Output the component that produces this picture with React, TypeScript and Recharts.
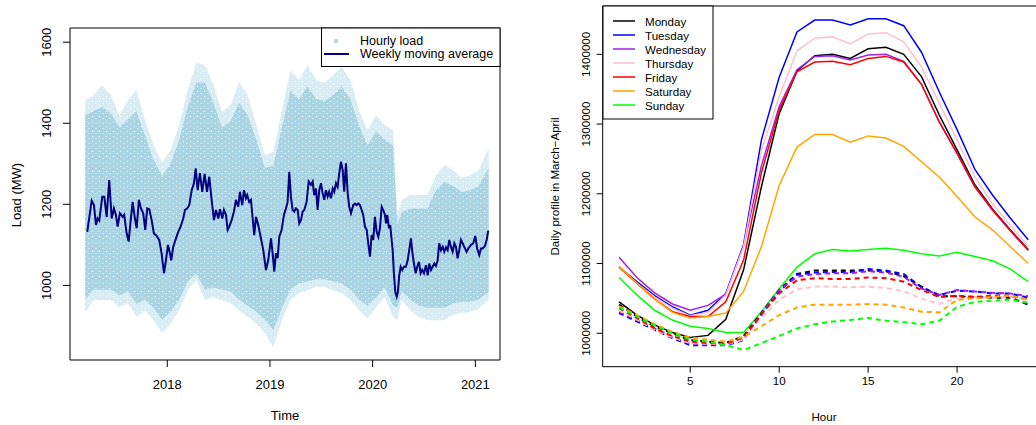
import React from "react";
import { ComposedChart, LineChart, Line, Area, XAxis, YAxis, ReferenceArea } from "recharts";

const FONT = '"Liberation Sans", Arial, Helvetica, sans-serif';

// ---- left panel: hourly load cloud (read as monthly envelopes) + weekly moving average
const bandTime = [
  2017.2, 2017.283, 2017.367, 2017.45, 2017.533, 2017.617, 2017.7, 2017.783, 2017.867, 2017.95,
  2018.033, 2018.117, 2018.2, 2018.283, 2018.367, 2018.45, 2018.533, 2018.617, 2018.7, 2018.783,
  2018.867, 2018.95, 2019.033, 2019.117, 2019.2, 2019.283, 2019.367, 2019.45, 2019.533, 2019.617,
  2019.7, 2019.783, 2019.867, 2019.95, 2020.033, 2020.117, 2020.2, 2020.24, 2020.283, 2020.367,
  2020.45, 2020.533, 2020.617, 2020.7, 2020.783, 2020.867, 2020.95, 2021.033, 2021.13,
];
const loadOuterHigh = [
  1457, 1470, 1494, 1470, 1420, 1457, 1482, 1408, 1346, 1304,
  1334, 1396, 1482, 1549, 1544, 1494, 1428, 1445, 1502, 1470,
  1396, 1322, 1330, 1433, 1531, 1507, 1544, 1507, 1500, 1519,
  1539, 1507, 1433, 1383, 1420, 1396, 1383, 1174, 1211, 1223,
  1223, 1223, 1272, 1297, 1284, 1265, 1272, 1284, 1339,
];
const loadOuterLow = [
  934, 964, 964, 964, 946, 956, 922, 939, 914, 882,
  906, 939, 988, 1013, 964, 971, 964, 956, 939, 922,
  906, 882, 848, 914, 964, 981, 988, 996, 996, 988,
  981, 964, 939, 919, 946, 971, 922, 914, 964, 939,
  922, 914, 914, 914, 927, 932, 934, 943, 964,
];
const loadInnerHigh = [
  1420, 1430, 1440, 1425, 1390, 1410, 1430, 1370, 1310, 1270,
  1300, 1360, 1440, 1500, 1500, 1450, 1390, 1405, 1450, 1420,
  1360, 1290, 1295, 1390, 1480, 1460, 1490, 1460, 1455, 1470,
  1490, 1460, 1395, 1345, 1380, 1360, 1345, 1150, 1180, 1190,
  1190, 1190, 1235, 1255, 1245, 1230, 1235, 1245, 1290,
];
const loadInnerLow = [
  965, 990, 990, 990, 975, 985, 955, 965, 945, 915,
  935, 965, 1010, 1030, 990, 995, 990, 985, 965, 950,
  935, 915, 890, 945, 990, 1005, 1010, 1015, 1015, 1010,
  1005, 990, 965, 950, 970, 995, 950, 945, 985, 965,
  950, 945, 945, 945, 955, 960, 960, 965, 985,
];

const maTime = [
  2017.221, 2017.264, 2017.286, 2017.306, 2017.322, 2017.338, 2017.367, 2017.387, 2017.41, 2017.435,
  2017.459, 2017.481, 2017.5, 2017.517, 2017.539, 2017.566, 2017.581, 2017.605, 2017.624, 2017.644,
  2017.663, 2017.685, 2017.702, 2017.724, 2017.744, 2017.766, 2017.786, 2017.805, 2017.825, 2017.848,
  2017.87, 2017.897, 2017.922, 2017.945, 2017.968, 2017.987, 2018.007, 2018.026, 2018.039, 2018.058,
  2018.085, 2018.107, 2018.13, 2018.156, 2018.172, 2018.195, 2018.214, 2018.238, 2018.26, 2018.277,
  2018.296, 2018.318, 2018.341, 2018.364, 2018.387, 2018.409, 2018.432, 2018.455, 2018.474, 2018.497,
  2018.513, 2018.536, 2018.552, 2018.572, 2018.588, 2018.604, 2018.627, 2018.649, 2018.669, 2018.691,
  2018.708, 2018.73, 2018.747, 2018.766, 2018.779, 2018.798, 2018.815, 2018.832, 2018.847, 2018.864,
  2018.886, 2018.909, 2018.935, 2018.961, 2018.983, 2019.01, 2019.026, 2019.042, 2019.058, 2019.075,
  2019.091, 2019.114, 2019.136, 2019.156, 2019.172, 2019.188, 2019.204, 2019.221, 2019.237, 2019.253,
  2019.27, 2019.285, 2019.302, 2019.318, 2019.334, 2019.357, 2019.377, 2019.399, 2019.416, 2019.431,
  2019.448, 2019.464, 2019.48, 2019.497, 2019.513, 2019.529, 2019.545, 2019.562, 2019.577, 2019.594,
  2019.611, 2019.626, 2019.643, 2019.659, 2019.675, 2019.691, 2019.708, 2019.723, 2019.74, 2019.757,
  2019.772, 2019.789, 2019.811, 2019.828, 2019.844, 2019.86, 2019.876, 2019.893, 2019.908, 2019.925,
  2019.942, 2019.957, 2019.974, 2019.99, 2020.006, 2020.022, 2020.039, 2020.055, 2020.071, 2020.088,
  2020.103, 2020.12, 2020.13, 2020.142, 2020.159, 2020.171, 2020.185, 2020.195, 2020.207, 2020.22,
  2020.234, 2020.246, 2020.259, 2020.273, 2020.288, 2020.305, 2020.324, 2020.341, 2020.356, 2020.373,
  2020.386, 2020.402, 2020.419, 2020.434, 2020.451, 2020.467, 2020.483, 2020.5, 2020.519, 2020.536,
  2020.551, 2020.568, 2020.584, 2020.6, 2020.616, 2020.633, 2020.648, 2020.665, 2020.682, 2020.697,
  2020.714, 2020.73, 2020.746, 2020.762, 2020.779, 2020.795, 2020.811, 2020.827, 2020.843, 2020.86,
  2020.876, 2020.892, 2020.915, 2020.931, 2020.957, 2020.98, 2020.999, 2021.018, 2021.038, 2021.055,
  2021.071, 2021.093, 2021.11, 2021.126,
];
const maLoad = [
  1132, 1209, 1198, 1149, 1165, 1160, 1219, 1219, 1169, 1260,
  1165, 1190, 1174, 1145, 1178, 1169, 1174, 1128, 1108, 1161,
  1206, 1165, 1141, 1211, 1190, 1178, 1137, 1190, 1188, 1161,
  1128, 1122, 1112, 1079, 1030, 1062, 1100, 1079, 1062, 1095,
  1116, 1132, 1145, 1165, 1186, 1190, 1198, 1235, 1252, 1289,
  1235, 1277, 1231, 1275, 1231, 1268, 1211, 1161, 1186, 1165,
  1188, 1165, 1186, 1174, 1137, 1145, 1161, 1182, 1211, 1194,
  1231, 1198, 1235, 1215, 1223, 1206, 1211, 1165, 1124, 1169,
  1149, 1120, 1087, 1038, 1062, 1116, 1079, 1034, 1079, 1067,
  1120, 1137, 1174, 1190, 1206, 1280, 1219, 1186, 1182, 1190,
  1186, 1153, 1161, 1182, 1186, 1206, 1256, 1248, 1256, 1223,
  1239, 1186, 1235, 1252, 1227, 1211, 1235, 1219, 1231, 1215,
  1239, 1231, 1252, 1243, 1277, 1305, 1285, 1231, 1301, 1227,
  1194, 1178, 1198, 1202, 1198, 1202, 1198, 1186, 1174, 1145,
  1137, 1104, 1071, 1124, 1112, 1169, 1132, 1120, 1141, 1194,
  1186, 1174, 1153, 1174, 1141, 1149, 1112, 1087, 1030, 984,
  972, 984, 1025, 1046, 1038, 1046, 1046, 1062, 1087, 1116,
  1083, 1054, 1030, 1046, 1058, 1030, 1038, 1030, 1050, 1025,
  1054, 1038, 1046, 1054, 1048, 1062, 1104, 1087, 1095, 1083,
  1094, 1087, 1112, 1095, 1083, 1104, 1095, 1067, 1087, 1112,
  1104, 1095, 1083, 1091, 1100, 1104, 1122, 1091, 1075, 1091,
  1091, 1097, 1112, 1135,
];
const yearTicks = [2018, 2019, 2020, 2021];
const loadTicks = [1000, 1200, 1400, 1600];

// ---- right panel: daily profiles (thousands), solid and dashed per weekday
const hours = [1, 2, 3, 4, 5, 6, 7, 8, 9, 10, 11, 12, 13, 14, 15, 16, 17, 18, 19, 20, 21, 22, 23, 24];
const hourTicks = [5, 10, 15, 20];
const profileTicks = [1000000, 1100000, 1200000, 1300000, 1400000];

const monSolid = [1045, 1026, 1012, 1001, 994, 997, 1020, 1091, 1210, 1315, 1376, 1398, 1400, 1394, 1408, 1410, 1400, 1368, 1313, 1263, 1213, 1178, 1148, 1120];
const tueSolid = [1095, 1074, 1054, 1038, 1026, 1033, 1057, 1127, 1277, 1367, 1432, 1449, 1449, 1442, 1451, 1451, 1441, 1403, 1346, 1292, 1235, 1198, 1165, 1134];
const wedSolid = [1109, 1080, 1058, 1042, 1033, 1040, 1056, 1125, 1240, 1325, 1378, 1397, 1398, 1392, 1399, 1400, 1390, 1357, 1303, 1258, 1210, 1176, 1147, 1119];
const thuSolid = [1094, 1072, 1052, 1036, 1025, 1030, 1055, 1124, 1262, 1339, 1405, 1423, 1425, 1415, 1429, 1431, 1418, 1382, 1330, 1277, 1224, 1185, 1155, 1124];
const friSolid = [1095, 1072, 1049, 1031, 1024, 1024, 1045, 1105, 1230, 1320, 1375, 1389, 1390, 1385, 1394, 1397, 1389, 1357, 1303, 1258, 1210, 1177, 1147, 1119];
const satSolid = [1096, 1072, 1049, 1030, 1022, 1024, 1029, 1060, 1124, 1212, 1267, 1285, 1285, 1274, 1283, 1280, 1268, 1246, 1224, 1196, 1167, 1148, 1124, 1100];
const sunSolid = [1080, 1055, 1033, 1019, 1010, 1007, 1001, 1001, 1031, 1064, 1095, 1114, 1120, 1118, 1120, 1122, 1119, 1114, 1111, 1116, 1110, 1104, 1092, 1074];

const monDashed = [1041, 1024, 1010, 1000, 990, 988, 986, 996, 1029, 1062, 1085, 1090, 1090, 1090, 1090, 1089, 1082, 1067, 1053, 1053, 1052, 1051, 1051, 1041];
const tueDashed = [1029, 1017, 1005, 993, 983, 983, 983, 990, 1027, 1060, 1084, 1087, 1088, 1088, 1092, 1090, 1085, 1066, 1055, 1061, 1060, 1057, 1057, 1051];
const wedDashed = [1031, 1019, 1007, 995, 985, 984, 984, 993, 1028, 1062, 1081, 1085, 1086, 1086, 1089, 1087, 1081, 1064, 1055, 1062, 1060, 1058, 1057, 1053];
const thuDashed = [1033, 1020, 1005, 994, 986, 985, 984, 991, 1022, 1048, 1063, 1067, 1067, 1066, 1067, 1065, 1060, 1050, 1042, 1050, 1052, 1051, 1052, 1050];
const friDashed = [1036, 1022, 1007, 996, 988, 986, 985, 994, 1027, 1057, 1076, 1079, 1078, 1078, 1080, 1079, 1074, 1062, 1052, 1054, 1052, 1054, 1054, 1048];
const satDashed = [1039, 1026, 1013, 1002, 994, 991, 988, 995, 1010, 1026, 1037, 1041, 1041, 1041, 1042, 1041, 1037, 1031, 1030, 1048, 1050, 1052, 1054, 1048];
const sunDashed = [1037, 1024, 1011, 1000, 991, 988, 983, 976, 986, 996, 1007, 1013, 1017, 1019, 1022, 1018, 1016, 1013, 1018, 1038, 1045, 1047, 1048, 1044];

const dayNames = ["Monday", "Tuesday", "Wednesday", "Thursday", "Friday", "Saturday", "Sunday"];
const dayColors = ["#000000", "#0000FF", "#A020F0", "#FFC0CB", "#FF0000", "#FFA500", "#00FF00"];
const solidSets = [monSolid, tueSolid, wedSolid, thuSolid, friSolid, satSolid, sunSolid];
const dashedSets = [monDashed, tueDashed, wedDashed, thuDashed, friDashed, satDashed, sunDashed];

const bandRows = bandTime.map((t, i) => ({
  t,
  outer: [loadOuterLow[i], loadOuterHigh[i]],
  inner: [loadInnerLow[i], loadInnerHigh[i]],
}));
const maRows = maTime.map((t, i) => ({ t, v: maLoad[i] }));

const profileRows = hours.map((h, i) => {
  const row: Record<string, number> = { h };
  dayNames.forEach((d, k) => {
    row[d] = solidSets[k][i] * 1000;
    row[d + "_d"] = dashedSets[k][i] * 1000;
  });
  return row;
});

const LEFT_FS = 13;
const RIGHT_FS = 11.6;

function makeYTick(shift: number, fs: number) {
  return (p: any) => {
    const cx = p.x - shift;
    return (
      <text x={cx} y={p.y} transform={`rotate(-90 ${cx} ${p.y})`} textAnchor="middle"
        dominantBaseline="central" fontSize={fs} fontFamily={FONT} fill="#000">
        {p.payload.value}
      </text>
    );
  };
}

function makeXTick(shift: number, fs: number) {
  return (p: any) => (
    <text x={p.x} y={p.y + shift} textAnchor="middle" dominantBaseline="central"
      fontSize={fs} fontFamily={FONT} fill="#000">
      {p.payload.value}
    </text>
  );
}

const LX0 = 2017.053, LX1 = 2021.24, LY0 = 816, LY1 = 1635;
const RX0 = 0.08, RX1 = 24.92, RY0 = 952100, RY1 = 1469250;

export default function App() {
  return (
    <div style={{ position: "fixed", left: 0, top: 0, width: 1036, height: 425, overflow: "hidden", background: "#fff", fontFamily: FONT }}>
      {/* speckle texture standing in for the dense cloud of hourly points */}
      <svg width={0} height={0} style={{ position: "absolute" }}>
        <defs>
          <pattern id="loadSpeck" width={7} height={5} patternUnits="userSpaceOnUse">
            <rect width={7} height={5} fill="#A8D4E4" />
            <rect x={1} y={1} width={1} height={1} fill="#fff" />
            <rect x={4.5} y={3} width={1} height={1} fill="#fff" opacity={0.8} />
          </pattern>
        </defs>
      </svg>
      <div style={{ position: "absolute", left: 0, top: 0 }}>
        <ComposedChart width={520} height={425} margin={{ top: 28, right: 20, bottom: 35, left: 10 }}>
          <XAxis type="number" dataKey="t" domain={[LX0, LX1]} ticks={yearTicks} allowDataOverflow
            axisLine={false} tickLine={{ stroke: "#000" }} tickSize={7} tickMargin={0} height={30}
            tick={makeXTick(17, LEFT_FS)} />
          <YAxis type="number" domain={[LY0, LY1]} ticks={loadTicks} allowDataOverflow
            axisLine={false} tickLine={{ stroke: "#000" }} tickSize={7} tickMargin={0} width={60}
            tick={makeYTick(16, LEFT_FS)} />
          <Area data={bandRows} dataKey="outer" type="linear" stroke="none" fill="url(#loadSpeck)" fillOpacity={0.45} isAnimationActive={false} />
          <Area data={bandRows} dataKey="inner" type="linear" stroke="none" fill="url(#loadSpeck)" fillOpacity={1} isAnimationActive={false} />
          <Line data={maRows} dataKey="v" type="linear" stroke="#000080" strokeWidth={2} dot={false} isAnimationActive={false} />
          <ReferenceArea x1={LX0} x2={LX1} y1={LY0} y2={LY1} stroke="#000" strokeWidth={1} fill="none" fillOpacity={0} ifOverflow="visible" />
        </ComposedChart>
      </div>
      <div style={{ position: "absolute", left: 520, top: 0 }}>
        <LineChart width={540} height={425} data={profileRows} margin={{ top: 6, right: 15.4, bottom: 28.3, left: 22.7 }}>
          <XAxis type="number" dataKey="h" domain={[RX0, RX1]} ticks={hourTicks} allowDataOverflow
            axisLine={false} tickLine={{ stroke: "#000" }} tickSize={6} tickMargin={0} height={30}
            tick={makeXTick(7.3, RIGHT_FS)} />
          <YAxis type="number" domain={[RY0, RY1]} ticks={profileTicks} allowDataOverflow
            axisLine={false} tickLine={{ stroke: "#000" }} tickSize={6} tickMargin={0} width={60}
            tick={makeYTick(11, RIGHT_FS)} />
          {dayNames.map((d, k) => (
            <Line key={d} dataKey={d} type="linear" stroke={dayColors[k]} strokeWidth={1.5} dot={false} isAnimationActive={false} />
          ))}
          {dayNames.map((d, k) => (
            <Line key={d + "_d"} dataKey={d + "_d"} type="linear" stroke={dayColors[k]} strokeWidth={2}
              strokeDasharray="5 4" dot={false} isAnimationActive={false} />
          ))}
          <ReferenceArea x1={RX0} x2={RX1} y1={RY0} y2={RY1} stroke="#000" strokeWidth={1} fill="none" fillOpacity={0} ifOverflow="visible" />
        </LineChart>
      </div>
      <svg width={1036} height={425} style={{ position: "absolute", left: 0, top: 0, pointerEvents: "none" }} fontFamily={FONT}>
        {/* axis titles */}
        <text x={16.7} y={195} transform="rotate(-90 16.7 195)" textAnchor="middle" dominantBaseline="central" fontSize={LEFT_FS}>Load (MW)</text>
        <text x={285} y={415} textAnchor="middle" dominantBaseline="central" fontSize={LEFT_FS}>Time</text>
        <text x={554} y={186.5} transform="rotate(-90 554 186.5)" textAnchor="middle" dominantBaseline="central" fontSize={RIGHT_FS}>Daily profile in March−April</text>
        <text x={824} y={416.7} textAnchor="middle" dominantBaseline="central" fontSize={RIGHT_FS}>Hour</text>
        {/* left legend */}
        <rect x={321.5} y={28} width={178.5} height={38.5} fill="#fff" stroke="#000" strokeWidth={1} />
        <circle cx={336} cy={41} r={2.2} fill="#ADD8E6" />
        <line x1={324} y1={54} x2={349} y2={54} stroke="#000080" strokeWidth={2} />
        <text x={360} y={41} dominantBaseline="central" fontSize={12.5}>Hourly load</text>
        <text x={360} y={54} dominantBaseline="central" fontSize={12.5}>Weekly moving average</text>
        {/* right legend */}
        <rect x={603} y={6} width={110} height={113} fill="#fff" stroke="#000" strokeWidth={1} />
        {dayNames.map((d, k) => (
          <g key={d}>
            <line x1={613} y1={21 + k * 14} x2={635} y2={21 + k * 14} stroke={dayColors[k]} strokeWidth={1.5} />
            <text x={645} y={21 + k * 14} dominantBaseline="central" fontSize={RIGHT_FS}>{d}</text>
          </g>
        ))}
      </svg>
    </div>
  );
}
